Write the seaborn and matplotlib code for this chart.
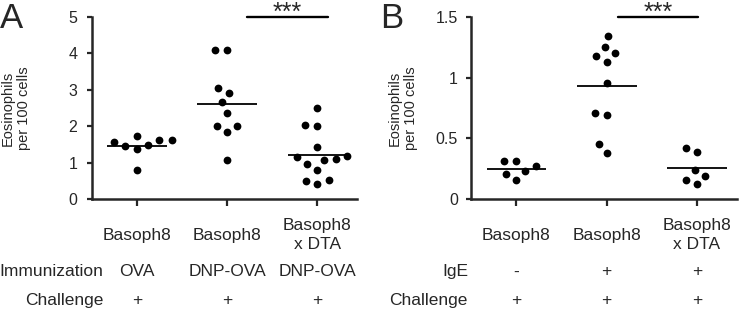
import numpy as np
import pandas as pd
import matplotlib
matplotlib.use("Agg")
import matplotlib.pyplot as plt
import matplotlib.transforms as mtrans
import seaborn as sns

# panel A: eosinophils per 100 cells
a_ova = [1.62, 1.58, 1.72, 1.47, 1.38, 1.49, 1.62, 0.80]
a_dnp = [4.09, 4.09, 3.06, 2.92, 2.66, 2.37, 2.02, 2.02, 1.85, 1.06]
a_dta = [2.49, 2.03, 2.01, 1.42, 1.09, 1.15, 1.19, 1.07, 0.96, 0.80, 0.53, 0.42, 0.50]
# panel B
b_neg = [0.31, 0.23, 0.27, 0.31, 0.21, 0.16]
b_ige = [1.34, 1.25, 1.18, 1.20, 1.13, 0.96, 0.71, 0.69, 0.45, 0.38]
b_dta = [0.42, 0.39, 0.24, 0.19, 0.16, 0.12]

mice = ["Basoph8", "Basoph8", "Basoph8\nx DTA"]
immunization = ["OVA", "DNP-OVA", "DNP-OVA"]
ige = ["-", "+", "+"]
challenge = ["+", "+", "+"]

sns.set_style("ticks")
plt.rcParams["font.family"] = ["Liberation Sans", "DejaVu Sans"]

fig = plt.figure(figsize=(7.42, 3.10), dpi=100)
axA = fig.add_axes([0.124, 0.358, 0.357, 0.587])
axB = fig.add_axes([0.635, 0.358, 0.358, 0.587])


def panel(ax, groups, ymax, yticks, yticklabels, row_vals, sig, lab_x, ylpad):
    ids = ["g0", "g1", "g2"]
    df = pd.DataFrame({
        "group": np.repeat(ids, [len(g) for g in groups]),
        "value": np.concatenate(groups),
    })
    # swarm laid out with wider spacing (dots shrunk after layout, below)
    sns.swarmplot(data=df, x="group", y="value", order=ids, color="black",
                  size=8.3, ax=ax)
    means = df.groupby("group")["value"].mean().reindex(ids)
    ax.hlines(means.values, np.arange(3) - 0.33, np.arange(3) + 0.33,
              color="black", lw=1.3)

    ax.set_xlim(-0.5, 2.44)
    ax.set_ylim(0, ymax)
    ax.set_yticks(yticks)
    ax.set_yticklabels(yticklabels, fontsize=11.5)
    ax.set_xticks(range(3))
    ax.set_xticklabels(mice, fontsize=12.5, va="center", linespacing=1.3)
    ax.tick_params(axis="x", length=5, width=1.6, pad=21)
    ax.tick_params(axis="y", length=3.5, width=1.6, pad=ylpad)
    for s in ["top", "right"]:
        ax.spines[s].set_visible(False)
    for s in ["left", "bottom"]:
        ax.spines[s].set_linewidth(1.8)
    ax.set_xlabel("")
    ax.set_ylabel("Eosinophils\nper 100 cells", fontsize=10.5)
    ax.yaxis.set_label_coords(lab_x, 0.5)

    # significance bar
    ax.plot(sig, [ymax, ymax], color="black", lw=1.7, clip_on=False)
    ax.annotate("***", xy=(np.mean(sig), ymax), xytext=(0, -2),
                textcoords="offset points", ha="center", va="baseline",
                fontsize=18, annotation_clip=False)

    # condition rows below the axis
    tr = mtrans.blended_transform_factory(ax.transData, fig.transFigure)
    for i in range(3):
        ax.text(i, 0.123, row_vals[i], transform=tr, ha="center", va="center",
                fontsize=12.5)
        ax.text(i, 0.032, challenge[i], transform=tr, ha="center", va="center",
                fontsize=12.5)


panel(axA, [a_ova, a_dnp, a_dta], 5, [0, 1, 2, 3, 4, 5],
      ["0", "1", "2", "3", "4", "5"], immunization, [1.22, 2.12], -0.23, 7)
panel(axB, [b_neg, b_ige, b_dta], 1.5, [0, 0.5, 1, 1.5],
      ["0", "0.5", "1", "1.5"], ige, [1.12, 2.01], -0.2, 6)

# fix the swarm layout, then draw the dots at their real size
fig.canvas.draw()
for ax in (axA, axB):
    for coll in ax.collections:
        if "draw" in coll.__dict__:
            del coll.__dict__["draw"]
            coll.set_sizes([5.6 ** 2])

# row names and panel letters
fig.text(103 / 742, 0.123, "Immunization", ha="right", va="center", fontsize=12.5)
fig.text(103 / 742, 0.032, "Challenge", ha="right", va="center", fontsize=12.5)
fig.text(468 / 742, 0.123, "IgE", ha="right", va="center", fontsize=12.5)
fig.text(468 / 742, 0.032, "Challenge", ha="right", va="center", fontsize=12.5)
fig.text(0.0, 0.995, "A", ha="left", va="top", fontsize=25)
fig.text(380 / 742, 0.995, "B", ha="left", va="top", fontsize=25)

fig.savefig("out.png", dpi=100)
